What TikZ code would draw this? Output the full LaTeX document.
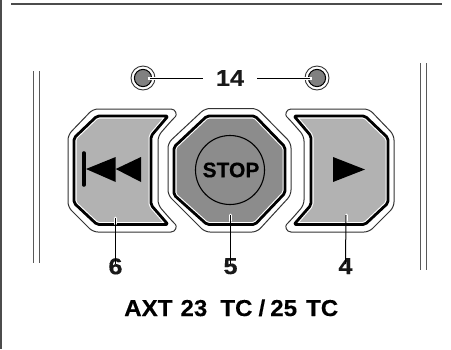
\documentclass[tikz,border=0pt]{standalone}
\usepackage{fontspec}
\setmainfont{Liberation Sans}
\newfontfamily\lblfont[FakeBold=0.3,FakeStretch=1.1]{Liberation Sans Bold}
\newfontfamily\capfont[FakeBold=0.3,FakeStretch=1.05]{Liberation Sans Bold}
\newfontfamily\stopfont[FakeBold=0.3]{Liberation Sans Bold}
\newcommand{\btnface}[3]{%
  \filldraw[outerline,rounded corners=5pt] #2;
  \fill[#1,rounded corners=2pt] #3;
  \begin{scope}[rounded corners=2pt]
    \clip #3;
    \draw[white,line width=5pt] #3;
  \end{scope}
  \draw[black,line width=2.8pt,line join=round,rounded corners=2pt] #3;
}
\tikzset{
  x=1pt,y=-1pt,
  outerline/.style={draw=black!80,fill=white,line width=1pt},
  keylabel/.style={font=\lblfont\fontsize{23}{23}\selectfont,inner sep=0pt,text=black!90},
  callout/.style={black,line width=1pt},
  halo/.style={white,line width=3pt},
  guide/.style={draw=black!65,line width=0.9pt},
  icon/.style={fill=black},
}
\definecolor{keygray}{gray}{0.70}
\definecolor{stopgray}{gray}{0.55}
\definecolor{ledgray}{gray}{0.50}
\begin{document}
\begin{tikzpicture}
\useasboundingbox (0,0) rectangle (451,349);
\fill[white] (0,0) rectangle (451,349);
% frame lines
\draw[black!70,line width=1.8pt] (0.9,0) -- (0.9,349);
\draw[black!70,line width=1.2pt] (11,4) -- (442,4);
% side guides
\draw[guide] (33,71) -- (33,263);
\draw[guide] (39.5,71) -- (39.5,263);
\draw[guide] (420,63) -- (420,270);
\draw[guide] (426,63) -- (426,270);
% LEDs
\foreach \n/\cx in {ledl/143,ledr/317}{
  \filldraw[draw=black!80,fill=white,line width=0.9pt] (\cx,78) circle (12);
  \filldraw[draw=black,fill=ledgray,line width=1pt] (\cx,78) circle (8.6);
  \coordinate (\n) at (\cx,78);
}
\node[keylabel,inner xsep=13pt] (n14) at (230,78) {14};
\draw[halo] ([xshift=5pt]ledl) -- ([xshift=14pt]ledl);
\draw[halo] ([xshift=-5pt]ledr) -- ([xshift=-14pt]ledr);
\draw[callout] ([xshift=7pt]ledl) -- (n14.west);
\draw[callout] ([xshift=-7pt]ledr) -- (n14.east);
% left button
\btnface{keygray}{(93,109) -- (166,109) .. controls (176,109) and (177,115) .. (172,120) -- (158,136) -- (158,205) -- (172,221) .. controls (177,226) and (176,232) .. (166,232) -- (93,232) -- (68,207) -- (68,135) -- cycle}{(97,116) -- (168,116) -- (151,136) -- (151,205) -- (168,224.5) -- (97,224.5) -- (74,203) -- (74,138) -- cycle}
% stop button
\btnface{stopgray}{(205,108.5) -- (257,108.5) -- (291,143) -- (291,195) -- (257,232) -- (205,232) -- (168,195) -- (168,143) -- cycle}{(207,116) -- (255,116) -- (285,147) -- (285,193) -- (255,224.5) -- (207,224.5) -- (174,195) -- (174,147) -- cycle}
% right button
\btnface{keygray}{(369,109) -- (296,109) .. controls (286,109) and (285,115) .. (290,120) -- (304,136) -- (304,205) -- (290,221) .. controls (285,226) and (286,232) .. (296,232) -- (369,232) -- (394,207) -- (394,135) -- cycle}{(365,116) -- (294,116) -- (311,136) -- (311,205) -- (294,224.5) -- (365,224.5) -- (388,203) -- (388,138) -- cycle}
% icons
\draw[black,line width=3.6pt,line cap=round] (83.8,153) -- (83.8,185);
\fill[icon] (86,169) -- (115.7,157) -- (115.7,182) -- cycle;
\fill[icon] (115.7,169) -- (141,157) -- (141,182) -- cycle;
\fill[icon] (333,157) -- (365,169.5) -- (333,182) -- cycle;
\draw[black,line width=1.1pt] (230,170) circle (34.5);
\node[font=\stopfont\fontsize{21}{21}\selectfont,inner sep=0pt] (stop) at (231,170) {STOP};
% callouts
\node[keylabel,anchor=north] (n6) at (115.5,258) {6};
\node[keylabel,anchor=north] (n5) at (230.5,258) {5};
\node[keylabel,anchor=north] (n4) at (345.5,258) {4};
\coordinate (c6) at (115.5,218);
\coordinate (c5) at (230.5,215);
\coordinate (c4) at (346,215);
\foreach \c/\n in {c6/n6,c5/n5,c4/n4}{
  \draw[white,line width=3pt,line cap=round] (\c) -- ++(0,6);
  \draw[callout] (\c) -- ([yshift=-6pt]\n.north);
}
% caption
\node[font=\capfont\fontsize{23}{23}\selectfont,inner sep=0pt,anchor=base west] (cap) at (124,316) {AXT\hspace{8pt}23\hspace{13pt}TC\hspace{6pt}/\hspace{5pt}25\hspace{9pt}TC};
\end{tikzpicture}
\end{document}
